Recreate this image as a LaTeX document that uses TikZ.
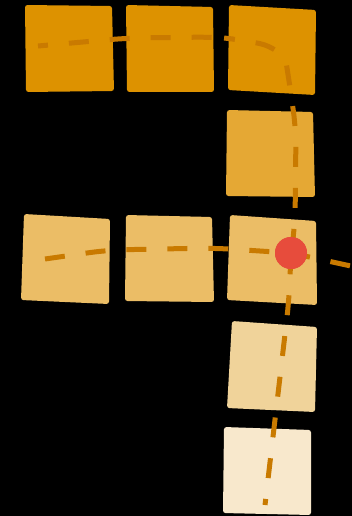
\documentclass[tikz,border=0pt]{standalone}
\begin{document}
\begin{tikzpicture}[x=1pt,y=-1pt,
  tile/.style={line join=round,rounded corners=2.5pt},
  road/.style={draw=cdash,line width=5pt,dash pattern=on 20pt off 21pt,rounded corners=18pt},
  hub/.style={circle,fill=cred,minimum size=32pt,inner sep=0pt}]
\definecolor{c1}{HTML}{DD9200}
\definecolor{c2}{HTML}{E5A834}
\definecolor{c3}{HTML}{EBBD66}
\definecolor{c4}{HTML}{F0D39A}
\definecolor{c5}{HTML}{F8E8CC}
\definecolor{cdash}{HTML}{C97A00}
\definecolor{cred}{HTML}{E74C3C}
\fill[black] (0,0) rectangle (352,516);
\useasboundingbox (0,0) rectangle (352,516);
% tiles
\fill[c1,tile] (25,5) -- (112,6) -- (114,91) -- (26,92) -- cycle;
\fill[c1,tile] (126,5) -- (213,7) -- (214,92) -- (127,92) -- cycle;
\fill[c1,tile] (229,5) -- (316,10) -- (315,95) -- (228,90) -- cycle;
\fill[c2,tile] (227,110) -- (313,112) -- (315,197) -- (226,196) -- cycle;
\fill[c3,tile] (24,214) -- (110,219) -- (109,304) -- (21,300) -- cycle;
\fill[c3,tile] (126,215) -- (212,217) -- (214,302) -- (125,301) -- cycle;
\fill[c3,tile] (230,215) -- (316,221) -- (317,305) -- (227,300) -- cycle;
\fill[c4,tile] (232,321) -- (317,327) -- (315,412) -- (227,408) -- cycle;
\fill[c5,tile] (224,427) -- (311,430) -- (311,515) -- (223,513) -- cycle;
% named points
\coordinate (s1) at (38,46);
\coordinate (b1) at (128,38);
\coordinate (b2) at (215,37);
\coordinate (c1a) at (242,40);
\coordinate (c1b) at (289,80);
\coordinate (d1) at (296,130);
\coordinate (g1) at (295,225);
\node[hub] (hub) at (291,253) {};
\coordinate (h1) at (289,300);
\coordinate (e1) at (265,505);
\coordinate (s2) at (45,259);
\coordinate (f1) at (108,250);
\coordinate (f2) at (213,248);
\coordinate (e2) at (360,268);
% roads
\draw[road,dash phase=10pt] (s1) -- (b1) -- (b2) -- (c1a) .. controls (272,46) and (285,56) .. (c1b) -- (d1) -- (g1) -- (hub.center) -- (h1) -- (e1);
\draw[road,dash phase=0pt] (s2) -- (f1) -- (f2) -- (hub.center) -- (e2);
\node[hub] at (hub) {};
\end{tikzpicture}
\end{document}
